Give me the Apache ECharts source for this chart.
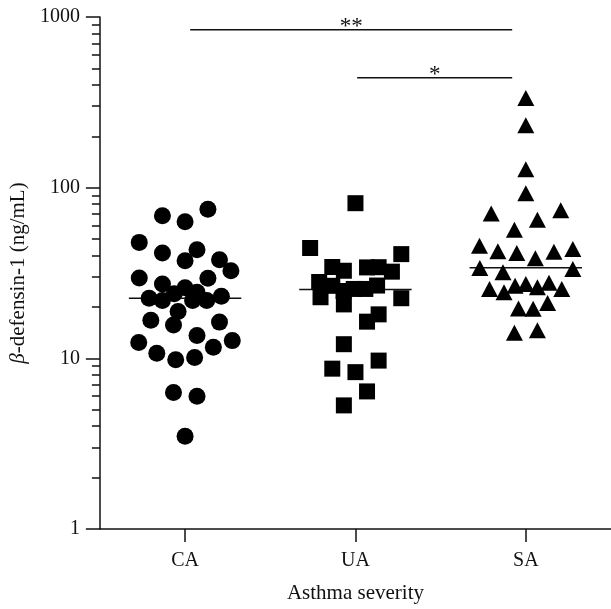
<!DOCTYPE html>
<html>
<head>
<meta charset="utf-8">
<script src="https://cdn.jsdelivr.net/npm/echarts@6/dist/echarts.min.js"></script>
<style>
  html, body { margin: 0; padding: 0; background: #fff; }
  #chart { width: 611px; height: 609px; }
</style>
</head>
<body>
<div id="chart"></div>
<script>
// Asthma severity groups (x positions 1, 2, 3)
const categories = ['CA', 'UA', 'SA'];

// β-defensin-1 concentrations (ng/mL) per patient, with horizontal spread within each column
const caValues = [74.8, 68.4, 63.1, 47.8, 41.4, 43.3, 37.3, 37.8, 32.6, 29.6, 27.3, 29.5,
                  25.9, 22.5, 21.8, 23.9, 24.4, 21.8, 21.8, 23.1, 18.8, 16.7, 15.7, 16.3,
                  13.6, 12.4, 12.7, 11.6, 10.7, 9.8, 10.1, 6.3, 6.0, 3.5];
const caSpread = [0.134, -0.133, 0, -0.269, -0.133, 0.07, 0, 0.202, 0.269, -0.269, -0.133, 0.134,
                  0, -0.211, -0.133, -0.064, 0.07, 0.044, 0.127, 0.213, -0.041, -0.201, -0.068, 0.202,
                  0.07, -0.272, 0.277, 0.166, -0.166, -0.055, 0.056, -0.068, 0.07, 0];

const uaValues = [81.1, 44.3, 40.8, 34.3, 32.6, 34.1, 34.2, 32.2, 28.0, 26.6, 24.8, 25.5, 25.5,
                  26.7, 22.8, 20.7, 22.5, 18.1, 16.4, 12.1, 9.7, 8.7, 8.3, 6.4, 5.3];
const uaSpread = [0, -0.266, 0.269, -0.136, -0.068, 0.068, 0.136, 0.214, -0.213, -0.136, -0.07, -0.01, 0.058,
                  0.127, -0.205, -0.068, 0.269, 0.136, 0.068, -0.068, 0.136, -0.136, 0, 0.068, -0.068];

const saValues = [335.7, 232.3, 128.1, 92.7, 70.6, 73.8, 64.8, 56.6, 45.7, 42.4, 41.4, 38.6, 42.1, 43.7,
                  33.8, 31.9, 33.4, 25.5, 24.4, 26.6, 27.3, 26.1, 27.7, 25.5, 19.6, 19.5, 21.1, 14.1, 14.6];
const saSpread = [0, 0, 0, 0, -0.203, 0.205, 0.068, -0.067, -0.272, -0.164, -0.053, 0.056, 0.165, 0.276,
                  -0.27, -0.134, 0.276, -0.213, -0.128, -0.063, 0, 0.068, 0.136, 0.211, -0.043, 0.043, 0.128, -0.067, 0.068];

// Group medians (ng/mL)
const medians = [22.5, 25.3, 34.0];

// y-axis ticks (log scale)
const majorTicks = [1, 10, 100, 1000];
const minorTicks = [2, 3, 4, 5, 6, 7, 8, 9, 20, 30, 40, 50, 60, 70, 80, 90, 200, 300, 400, 500, 600, 700, 800, 900];

// Pairwise comparisons: start/end group positions, bracket level and significance mark
const sigFrom = [1.03, 2.01];
const sigTo = [2.92, 2.92];
const sigLevel = [841, 441];
const sigMark = ['**', '*'];

const FONT = 'Liberation Serif';
const INK = '#111';
const MEDIAN_HALF = 0.33;

function toPoints(values, spread, pos) {
  return values.map((v, i) => [pos + spread[i], v]);
}

const groupSeries = [
  { values: caValues, spread: caSpread, symbol: 'circle', size: 17 },
  { values: uaValues, spread: uaSpread, symbol: 'rect', size: 16 },
  { values: saValues, spread: saSpread, symbol: 'triangle', size: [17, 16] }
].map((g, i) => ({
  type: 'scatter',
  name: categories[i],
  data: toPoints(g.values, g.spread, i + 1),
  symbol: g.symbol,
  symbolSize: g.size,
  itemStyle: { color: '#000', opacity: 1 },
  z: 3,
  silent: true
}));

const medianSeries = medians.map((m, i) => ({
  type: 'line',
  data: [[i + 1 - MEDIAN_HALF, m], [i + 1 + MEDIAN_HALF, m]],
  symbol: 'none',
  lineStyle: { color: INK, width: 1.5 },
  z: 2,
  silent: true
}));

const bracketSeries = [];
sigMark.forEach((mark, i) => {
  bracketSeries.push({
    type: 'line',
    data: [[sigFrom[i], sigLevel[i]], [sigTo[i], sigLevel[i]]],
    symbol: 'none',
    lineStyle: { color: INK, width: 1.5 },
    silent: true
  });
  bracketSeries.push({
    type: 'scatter',
    data: [[(sigFrom[i] + sigTo[i]) / 2, sigLevel[i]]],
    symbolSize: 1,
    itemStyle: { color: 'rgba(0,0,0,0)', opacity: 1 },
    label: {
      show: true,
      position: 'top',
      distance: 0,
      offset: [0, 9],
      formatter: mark,
      fontFamily: FONT,
      fontSize: 23,
      color: INK
    },
    z: 4,
    silent: true
  });
});

const chart = echarts.init(document.getElementById('chart'), null, { renderer: 'canvas' });

chart.setOption({
  animation: false,
  backgroundColor: '#fff',
  grid: { left: 99, right: 0, top: 17, bottom: 78, containLabel: false },
  xAxis: {
    type: 'value',
    min: 0.5,
    max: 3.5,
    interval: 0.5,
    name: 'Asthma severity',
    nameLocation: 'middle',
    nameGap: 54,
    nameTextStyle: { fontFamily: FONT, fontSize: 21, color: INK },
    axisLine: { show: true, onZero: false, lineStyle: { color: INK, width: 1.5 } },
    axisTick: { show: true, length: 13, customValues: [1, 2, 3], lineStyle: { color: INK, width: 1.5 } },
    axisLabel: {
      show: true,
      margin: 22,
      customValues: [1, 2, 3],
      formatter: v => categories[Math.round(v) - 1] || '',
      fontFamily: FONT,
      fontSize: 20,
      color: INK
    },
    splitLine: { show: false }
  },
  yAxis: [
    {
      type: 'log',
      logBase: 10,
      min: 1,
      max: 1000,
      position: 'left',
      name: '{i|β}-defensin-1 (ng/mL)',
      nameLocation: 'middle',
      nameGap: 69,
      nameRotate: 90,
      nameTextStyle: {
        fontFamily: FONT, fontSize: 21, color: INK,
        rich: { i: { fontFamily: FONT, fontSize: 21, fontStyle: 'italic', color: INK } }
      },
      axisLine: { show: true, lineStyle: { color: INK, width: 1.5 } },
      axisTick: { show: true, length: 14, customValues: majorTicks, lineStyle: { color: INK, width: 1.5 } },
      axisLabel: {
        show: true,
        margin: 20,
        customValues: majorTicks,
        formatter: v => String(Math.round(v)),
        fontFamily: FONT,
        fontSize: 20,
        color: INK
      },
      splitLine: { show: false }
    },
    {
      type: 'log',
      logBase: 10,
      min: 1,
      max: 1000,
      position: 'left',
      axisLine: { show: false },
      axisTick: { show: true, length: 8, customValues: minorTicks, lineStyle: { color: INK, width: 1.5 } },
      axisLabel: { show: false },
      splitLine: { show: false }
    }
  ],
  series: [...medianSeries, ...groupSeries, ...bracketSeries]
});
</script>
</body>
</html>
